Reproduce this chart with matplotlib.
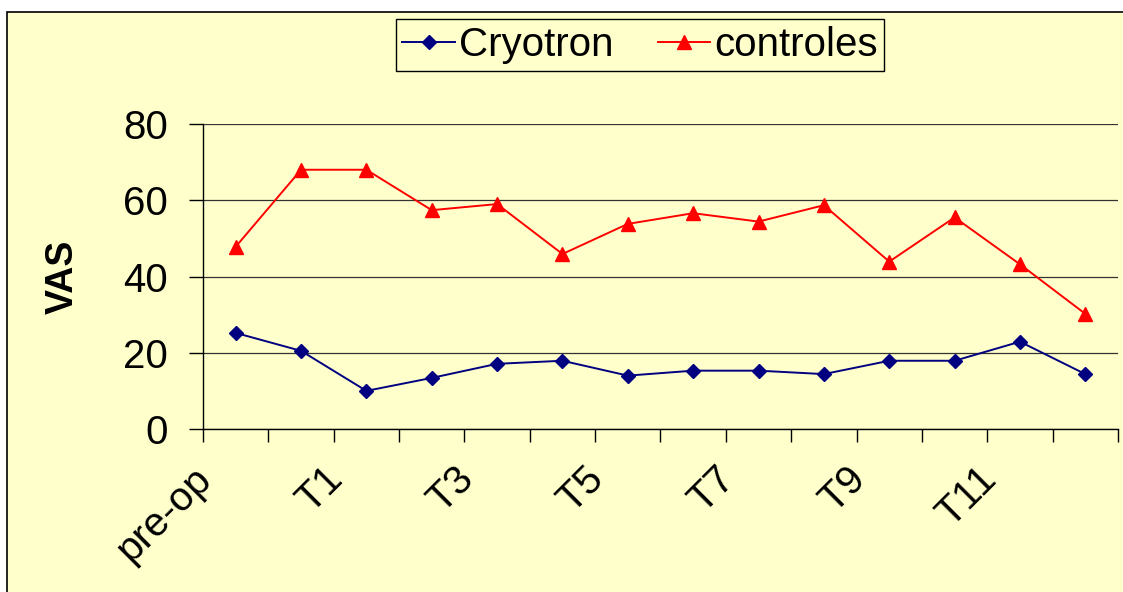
import matplotlib
matplotlib.use("Agg")
import matplotlib.pyplot as plt
import matplotlib.transforms as mtransforms
from matplotlib.patches import Rectangle

plt.rcParams['font.family'] = ['Liberation Sans', 'DejaVu Sans']

categories = ['pre-op', 'T0', 'T1', 'T2', 'T3', 'T4', 'T5', 'T6',
              'T7', 'T8', 'T9', 'T10', 'T11', 'T12']
cryotron = [25.2, 20.5, 10.0, 13.4, 17.1, 17.9, 14.0, 15.3, 15.3, 14.4, 17.9, 17.9, 22.9, 14.4]
controles = [47.8, 68.0, 68.0, 57.4, 59.0, 45.9, 53.8, 56.6, 54.4, 58.7, 43.9, 55.5, 43.2, 30.2]
shown_labels = ['pre-op', 'T1', 'T3', 'T5', 'T7', 'T9', 'T11']

bg = '#FFFFCC'
W, H = 1123, 592
fig = plt.figure(figsize=(W / 100, H / 100), dpi=100)
fig.patch.set_facecolor('white')
fig.patches.append(Rectangle((7 / W, -0.1), 1.2, (H - 12) / H + 0.1,
                             transform=fig.transFigure, facecolor=bg,
                             edgecolor='black', linewidth=1.2, zorder=-5))

ax = fig.add_axes([203 / W, (H - 429) / H, (1118 - 203) / W, (429 - 124) / H])
ax.set_facecolor('none')

x = list(range(len(categories)))
ax.plot(x, cryotron, color='#000080', marker='D', markersize=7,
        linewidth=1.4, label='Cryotron', clip_on=False, zorder=3)
ax.plot(x, controles, color='#FF0000', marker='^', markersize=10,
        linewidth=1.4, label='controles', clip_on=False, zorder=3)

ax.set_xlim(-0.5, len(categories) - 0.5)
ax.set_ylim(0, 80)
ax.set_yticks([0, 20, 40, 60, 80])
ax.yaxis.grid(True, color='#333333', linewidth=0.9)
ax.set_axisbelow(True)

for s in ['top', 'right']:
    ax.spines[s].set_visible(False)
ax.spines['left'].set_linewidth(1.0)
ax.spines['bottom'].set_linewidth(1.0)

ax.tick_params(axis='y', direction='out', length=10, width=1, pad=15, labelsize=29)
ax.set_xticks([i - 0.5 for i in range(len(categories) + 1)], minor=True)
ax.set_xticks([categories.index(c) for c in shown_labels])
ax.set_xticklabels(shown_labels, rotation=45, ha='right', va='center',
                   rotation_mode='anchor', fontsize=29)
ax.tick_params(axis='x', which='major', length=0, pad=32)
ax.tick_params(axis='x', which='minor', direction='out', length=9, width=1)
offset = mtransforms.ScaledTranslation(-0.30, 0, fig.dpi_scale_trans)
for lab in ax.get_xticklabels():
    lab.set_transform(lab.get_transform() + offset)

ax.set_ylabel('VAS', fontsize=27, fontweight='bold', labelpad=31)

leg = ax.legend(loc='center', bbox_to_anchor=(640 / W, (H - 45) / H),
                bbox_transform=fig.transFigure, ncol=2, fontsize=29,
                frameon=True, fancybox=False, framealpha=1, handlelength=1.3,
                columnspacing=1.1, handletextpad=0.1, borderpad=0.17,
                borderaxespad=0)
leg.get_frame().set_facecolor(bg)
leg.get_frame().set_edgecolor('black')
leg.get_frame().set_linewidth(1.0)

fig.savefig('out.png', dpi=100)
